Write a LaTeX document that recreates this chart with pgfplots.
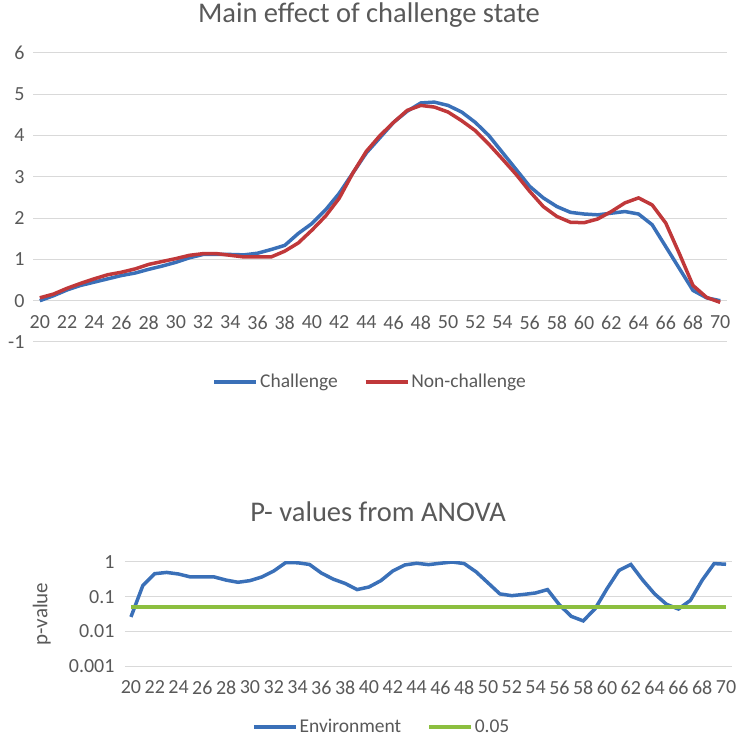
\documentclass[border=0pt]{standalone}
\usepackage{pgfplots}
\pgfplotsset{compat=1.18}
\usepackage{pgfplotstable}
\usepackage{fontspec}
\setmainfont{Carlito}
\definecolor{cblue}{HTML}{3A70B8}
\definecolor{cred}{HTML}{C0383A}
\definecolor{cgreen}{HTML}{8CBF3F}
\definecolor{ctext}{HTML}{595959}
\definecolor{cgrid}{HTML}{D9D9D9}
\pgfplotstableread{
x blue red
20 0.00 0.07
21 0.12 0.16
22 0.26 0.30
23 0.37 0.42
24 0.45 0.53
25 0.53 0.63
26 0.61 0.69
27 0.67 0.77
28 0.76 0.88
29 0.84 0.95
30 0.93 1.02
31 1.04 1.10
32 1.12 1.14
33 1.12 1.14
34 1.12 1.10
35 1.11 1.06
36 1.15 1.06
37 1.24 1.06
38 1.34 1.20
39 1.63 1.40
40 1.87 1.71
41 2.20 2.05
42 2.60 2.48
43 3.09 3.09
44 3.58 3.62
45 3.95 4.00
46 4.32 4.32
47 4.59 4.61
48 4.79 4.73
49 4.81 4.69
50 4.73 4.57
51 4.57 4.36
52 4.32 4.12
53 4.00 3.79
54 3.59 3.43
55 3.18 3.06
56 2.77 2.65
57 2.49 2.28
58 2.28 2.04
59 2.14 1.90
60 2.10 1.89
61 2.08 1.98
62 2.12 2.16
63 2.16 2.37
64 2.10 2.49
65 1.84 2.32
66 1.31 1.88
67 0.78 1.14
68 0.25 0.37
69 0.07 0.08
70 0.00 -0.04
}\maintable
\pgfplotstableread{
x p
20 0.026
21 0.21
22 0.46
23 0.50
24 0.45
25 0.37
26 0.37
27 0.37
28 0.30
29 0.26
30 0.29
31 0.37
32 0.55
33 0.96
34 0.95
35 0.85
36 0.48
37 0.32
38 0.24
39 0.16
40 0.19
41 0.29
42 0.55
43 0.82
44 0.92
45 0.84
46 0.92
47 1.00
48 0.90
49 0.52
50 0.25
51 0.12
52 0.107
53 0.116
54 0.128
55 0.16
56 0.058
57 0.027
58 0.020
59 0.045
60 0.17
61 0.57
62 0.85
63 0.30
64 0.12
65 0.060
66 0.044
67 0.078
68 0.30
69 0.90
70 0.86
}\ptable
\begin{document}
\begin{tikzpicture}
\path[use as bounding box] (0pt,0pt) rectangle (737pt,737pt);
\pgfplotsset{
  every axis/.append style={
    scale only axis,
    anchor=south west,
    axis line style={draw=none},
    major tick length=0pt,
    minor tick length=0pt,
    tick style={draw=none},
    tick label style={font=\fontsize{20}{23}\selectfont, text=ctext},
    /pgf/number format/assume math mode=true,
    ymajorgrids,
    grid style={cgrid, line width=1pt},
    title style={font=\fontsize{28.5}{32}\selectfont, text=ctext, anchor=center},
    legend style={draw=none, fill=none, font=\fontsize{19.5}{22}\selectfont, text=ctext, anchor=center, legend columns=2,
      /tikz/every even column/.append style={column sep=24pt}, inner sep=0pt},
    legend image code/.code={\draw[#1, line width=3.5pt] (0pt,0pt) -- (42pt,0pt);},
    xmin=19.5, xmax=70.5,
    xtick={20,22,...,70},
  }
}
\begin{axis}[
  at={(33pt,395pt)},
  width=694pt, height=289pt,
  ymin=-1, ymax=6,
  ytick={-1,0,...,6},
  xticklabel style={yshift=30pt},
  yticklabel style={xshift=-5pt},
  title={Main effect of challenge state},
  title style={at={(0.484,1.112)}},
  legend style={at={(0.486,-0.138)}},
]
\addplot[cblue, line width=3.5pt] table[x=x, y=blue] {\maintable};
\addlegendentry{Challenge}
\addplot[cred, line width=3.5pt] table[x=x, y=red] {\maintable};
\addlegendentry{Non-challenge}
\end{axis}
\begin{axis}[
  at={(125pt,71pt)},
  width=607pt, height=104pt,
  ymode=log,
  ymin=0.001, ymax=1,
  ytick={0.001,0.01,0.1,1},
  yticklabels={0.001,0.01,0.1,1},
  minor ytick={},
  xticklabel style={yshift=-11pt},
  yticklabel style={xshift=-7pt},
  ylabel={p-value},
  ylabel style={font=\fontsize{21}{24}\selectfont, text=ctext, at={(axis description cs:-0.137,0.5)}, anchor=center},
  title={P- values from ANOVA},
  title style={at={(0.417,1.423)}},
  legend style={at={(0.423,-0.585)}},
]
\addplot[cblue, line width=3.5pt] table[x=x, y=p] {\ptable};
\addlegendentry{Environment}
\addplot[cgreen, line width=3.5pt] coordinates {(20,0.05) (70,0.05)};
\addlegendentry{0.05}
\end{axis}
\end{tikzpicture}
\end{document}
